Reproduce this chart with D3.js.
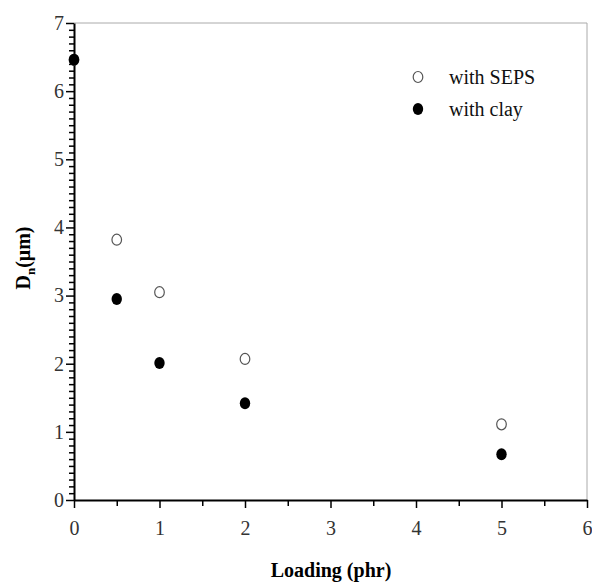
<!DOCTYPE html>
<html>
<head>
<meta charset="utf-8">
<script src="https://cdn.jsdelivr.net/npm/d3@7"></script>
<style>
  body { margin: 0; background: #fff; }
  text { font-family: "Liberation Serif", "Times New Roman", serif; }
</style>
</head>
<body>
<div id="chart"></div>
<script>
const loading = [0, 0.5, 1, 2, 5];
const sepsValues = [6.46, 3.82, 3.05, 2.07, 1.11];
const clayValues = [6.46, 2.95, 2.01, 1.42, 0.67];
const xTicks = [0, 1, 2, 3, 4, 5, 6];
const yTicks = [0, 1, 2, 3, 4, 5, 6, 7];
const seriesNames = ['with SEPS', 'with clay'];

const WIDTH = 592;
const HEIGHT = 582;
const margin = {left: 74, right: 5, top: 23, bottom: 82};

const svg = d3.select('#chart')
    .append('svg')
    .attr('width', WIDTH)
    .attr('height', HEIGHT);

const x = d3.scaleLinear()
    .domain([0, 6])
    .range([margin.left, WIDTH - margin.right]);

const y = d3.scaleLinear()
    .domain([0, 7])
    .range([HEIGHT - margin.bottom, margin.top]);

// frame: top and right in light gray
svg.append('path')
    .attr('d', `M${x(0)},${y(7)}H${x(6)}V${y(0)}`)
    .attr('fill', 'none')
    .attr('stroke', '#aaa')
    .attr('stroke-width', 1);

// minor ticks on y axis
const yMinor = d3.range(0, 70).map(d => d / 10).filter(d => d % 1 !== 0);
svg.append('g')
    .attr('transform', `translate(${x(0)},0)`)
    .call(d3.axisLeft(y).tickValues(yMinor).tickSize(5).tickFormat(''))
    .call(g => g.select('.domain').remove())
    .selectAll('line').attr('stroke', '#000').attr('stroke-width', 1.5);

// y axis
const yAxis = svg.append('g')
    .attr('transform', `translate(${x(0)},0)`)
    .call(d3.axisLeft(y).tickValues(yTicks).tickFormat(d3.format('d'))
        .tickSize(8).tickSizeOuter(0).tickPadding(2));
yAxis.select('.domain').attr('stroke', '#000').attr('stroke-width', 2);
yAxis.selectAll('line').attr('stroke', '#000').attr('stroke-width', 1.5);
yAxis.selectAll('text')
    .attr('font-size', 20)
    .attr('fill', '#333')
    .style('font-family', '"Liberation Serif", serif');

// minor ticks on x axis
svg.append('g')
    .attr('transform', `translate(0,${y(0)})`)
    .call(d3.axisBottom(x).tickValues([0.5, 1.5, 2.5, 3.5, 4.5, 5.5]).tickSize(6).tickFormat(''))
    .call(g => g.select('.domain').remove())
    .selectAll('line').attr('stroke', '#000').attr('stroke-width', 1.5);

// x axis
const xAxis = svg.append('g')
    .attr('transform', `translate(0,${y(0)})`)
    .call(d3.axisBottom(x).tickValues(xTicks).tickFormat(d3.format('d'))
        .tickSize(8).tickSizeOuter(0).tickPadding(13));
xAxis.select('.domain').attr('stroke', '#000').attr('stroke-width', 2);
xAxis.selectAll('line').attr('stroke', '#000').attr('stroke-width', 1.5);
xAxis.selectAll('text')
    .attr('font-size', 20)
    .attr('fill', '#333')
    .style('font-family', '"Liberation Serif", serif');

// open markers (with SEPS)
svg.selectAll('.seps')
    .data(loading.map((d, i) => [d, sepsValues[i]]))
    .enter()
    .append('ellipse')
    .attr('class', 'seps')
    .attr('cx', d => x(d[0]))
    .attr('cy', d => y(d[1]))
    .attr('rx', 4.8)
    .attr('ry', 5.5)
    .attr('fill', '#fff')
    .attr('stroke', '#555')
    .attr('stroke-width', 1.2);

// filled markers (with clay)
svg.selectAll('.clay')
    .data(loading.map((d, i) => [d, clayValues[i]]))
    .enter()
    .append('ellipse')
    .attr('class', 'clay')
    .attr('cx', d => x(d[0]))
    .attr('cy', d => y(d[1]))
    .attr('rx', 5.2)
    .attr('ry', 6)
    .attr('fill', '#000');

// legend
const legend = svg.append('g');
legend.append('ellipse')
    .attr('cx', 418).attr('cy', 77)
    .attr('rx', 4.8).attr('ry', 5.5)
    .attr('fill', '#fff').attr('stroke', '#555').attr('stroke-width', 1.2);
legend.append('ellipse')
    .attr('cx', 418).attr('cy', 109)
    .attr('rx', 5.2).attr('ry', 6)
    .attr('fill', '#000');
legend.selectAll('text')
    .data(seriesNames)
    .enter()
    .append('text')
    .attr('x', 449)
    .attr('y', (d, i) => 84 + i * 32)
    .attr('font-size', 20)
    .attr('fill', '#111')
    .text(d => d);

// axis titles
svg.append('text')
    .attr('x', 331)
    .attr('y', 577)
    .attr('text-anchor', 'middle')
    .attr('font-size', 20)
    .attr('font-weight', 'bold')
    .text('Loading (phr)');

const yTitle = svg.append('text')
    .attr('transform', `translate(30,258) rotate(-90)`)
    .attr('text-anchor', 'middle')
    .attr('font-size', 20)
    .attr('font-weight', 'bold');
yTitle.append('tspan').text('D');
yTitle.append('tspan').attr('dy', 5).attr('font-size', 13).text('n');
yTitle.append('tspan').attr('dy', -5).text('(μm)');
</script>
</body>
</html>
